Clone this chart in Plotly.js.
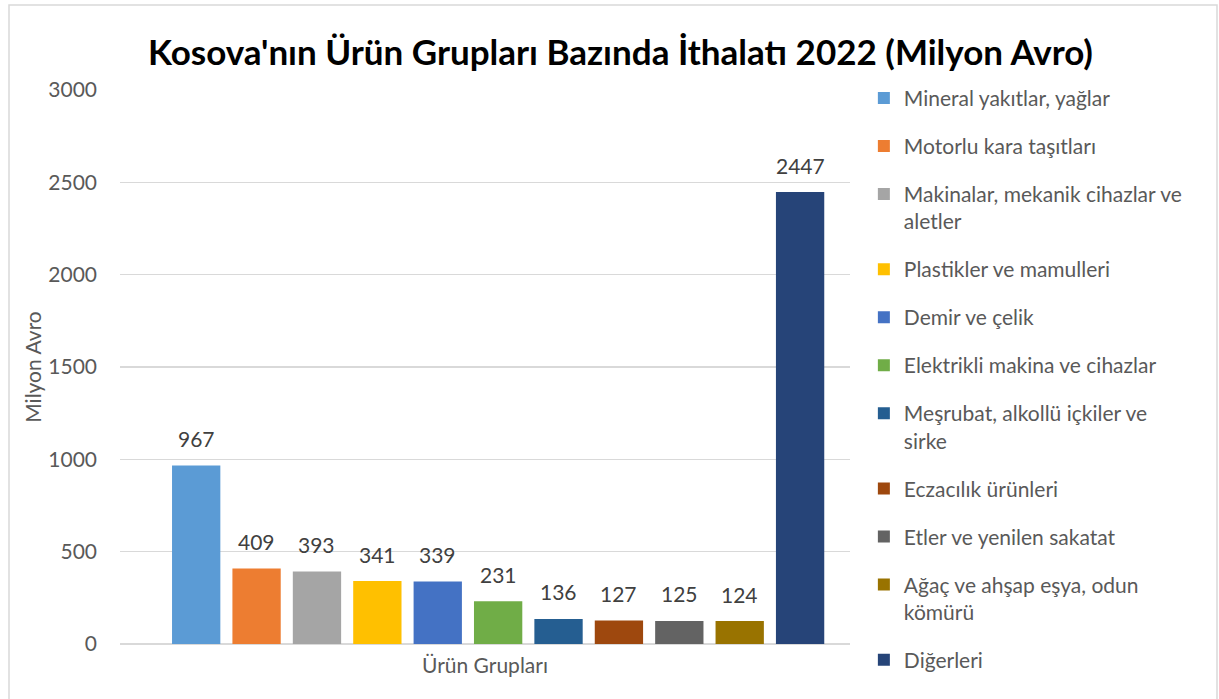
<!DOCTYPE html>
<html>
<head>
<meta charset="utf-8">
<script src="https://cdn.plot.ly/plotly-3.0.1.min.js"></script>
<style>
  html, body { margin: 0; padding: 0; background: #fff; }
  #chart { width: 1219px; height: 699px; }
</style>
</head>
<body>
<div id="chart"></div>
<script>
// product groups, in the order they are drawn
const groups = [
  'Mineral yakıtlar, yağlar',
  'Motorlu kara taşıtları',
  'Makinalar, mekanik cihazlar ve<br>aletler',
  'Plastikler ve mamulleri',
  'Demir ve çelik',
  'Elektrikli makina ve cihazlar',
  'Meşrubat, alkollü içkiler ve<br>sirke',
  'Eczacılık ürünleri',
  'Etler ve yenilen sakatat',
  'Ağaç ve ahşap eşya, odun<br>kömürü',
  'Diğerleri'
];
// imports 2022, million EUR
const imports = [967, 409, 393, 341, 339, 231, 136, 127, 125, 124, 2447];
const colors = ['#5B9BD5', '#ED7D31', '#A5A5A5', '#FFC000', '#4472C4', '#70AD47',
                '#255E91', '#9E480E', '#636363', '#997300', '#264478'];
const category = 'Ürün Grupları';

const FONT = 'Lato, "Open Sans", sans-serif';
const FS = 21;

// plot area in pixels
const L = 120, R = 850, T = 90, B = 644;
const pw = R - L, ph = B - T;
const bargap = 0.09;
const shift = 0.018; // bars sit a little right of the plot centre

const traces = groups.map(function (g, i) {
  return {
    type: 'bar',
    name: g,
    legendgroup: 'g' + i,
    x: [category],
    y: [imports[i]],
    marker: { color: colors[i] },
    hoverinfo: 'name+y'
  };
});

// value labels above each bar
const slot = pw * (1 - bargap) / groups.length;
const labels = imports.map(function (v, i) {
  return {
    xref: 'x', yref: 'y',
    x: category, y: v,
    xshift: (i - (groups.length - 1) / 2) * slot,
    yshift: 27,
    yanchor: 'middle',
    text: String(v),
    showarrow: false,
    font: { family: FONT, size: FS, color: '#404040' }
  };
});

const layout = {
  width: 1219,
  height: 699,
  margin: { l: L, r: 1219 - R, t: T, b: 699 - B },
  paper_bgcolor: '#fff',
  plot_bgcolor: '#fff',
  font: { family: FONT, color: '#595959', size: FS },
  title: {
    text: "<b>Kosova'nın Ürün Grupları Bazında İthalatı 2022 (Milyon Avro)</b>",
    font: { family: FONT, size: 35, color: '#000' },
    x: 0.509, xanchor: 'center',
    y: 0.925, yanchor: 'middle'
  },
  barmode: 'group',
  bargap: bargap,
  bargroupgap: 0.2,
  showlegend: true,
  legend: {
    x: 1.019, xanchor: 'left',
    y: 1.022, yanchor: 'top',
    font: { family: FONT, size: FS, color: '#595959' },
    traceorder: 'grouped',
    tracegroupgap: 17.7,
    maxheight: 700,
    itemclick: false,
    valign: 'top'
  },
  xaxis: {
    type: 'category',
    range: [-0.5 - shift, 0.5 - shift],
    showticklabels: false,
    ticks: '',
    showgrid: false,
    showline: false,
    zeroline: false,
    title: { text: category, font: { family: FONT, size: FS, color: '#595959' }, standoff: 14 }
  },
  yaxis: {
    range: [0, 3000],
    dtick: 500,
    showgrid: true,
    gridcolor: '#d9d9d9',
    gridwidth: 1.5,
    zeroline: true,
    zerolinecolor: '#d9d9d9',
    zerolinewidth: 1.5,
    showline: false,
    ticks: '',
    ticklabelstandoff: 22,
    tickfont: { family: FONT, size: FS, color: '#595959' },
    title: { text: 'Milyon Avro', font: { family: FONT, size: FS, color: '#595959' }, standoff: 0 }
  },
  annotations: labels,
  shapes: [{
    type: 'rect', xref: 'paper', yref: 'paper',
    x0: (9 - L) / pw, x1: (1217 - L) / pw,
    y0: (B - 720) / ph, y1: (B - 5) / ph,
    line: { color: '#d9d9d9', width: 1.5 },
    fillcolor: 'rgba(0,0,0,0)'
  }]
};

Plotly.newPlot('chart', traces, layout, { displayModeBar: false, staticPlot: true });
</script>
</body>
</html>
